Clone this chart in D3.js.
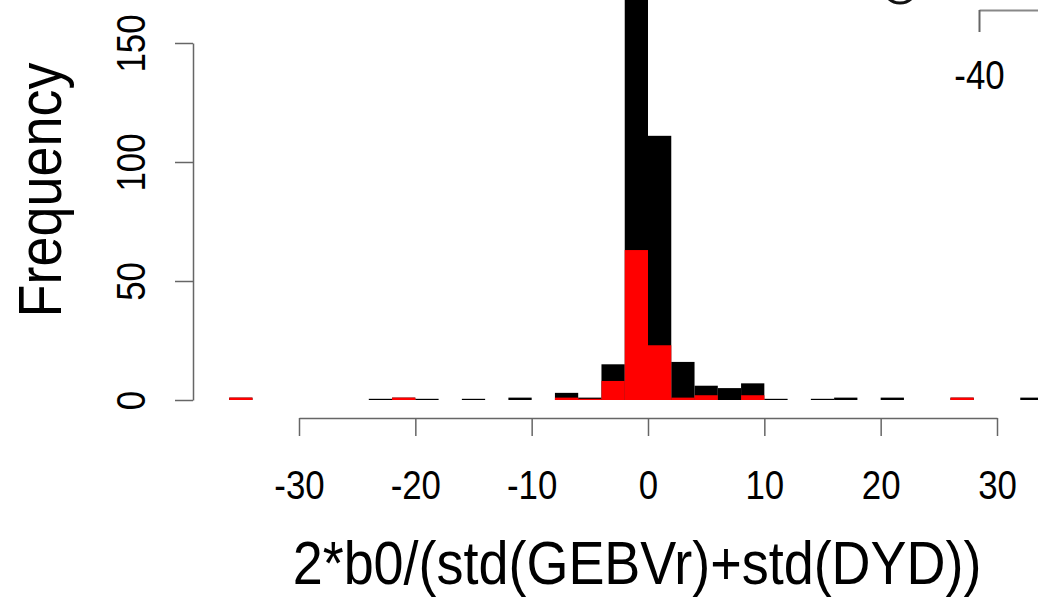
<!DOCTYPE html>
<html>
<head>
<meta charset="utf-8">
<script src="https://cdn.jsdelivr.net/npm/d3@7"></script>
<style>
  body { margin: 0; background: #fff; }
  text { font-family: 'Liberation Sans', Arial, sans-serif; fill: #000; }
</style>
</head>
<body>
<div class="chart"></div>
<script>
// bin left edges (bin width 2)
const binStarts = [-36, -34, -32, -30, -28, -26, -24, -22, -20, -18, -16, -14, -12, -10, -8, -6, -4, -2,
  0, 2, 4, 6, 8, 10, 12, 14, 16, 18, 20, 22, 24, 26, 28, 30, 32];
// all records (black) and subset (red), counts
const blackCounts = [1, 0, 0, 0, 0, 0, 0.5, 1, 0.5, 0, 0.5, 0, 1, 0, 3, 1, 15, 200,
  111, 16, 6, 5, 7, 0.5, 0, 0.5, 1, 0, 1, 0, 0, 1, 0, 0, 1];
const redCounts = [1, 0, 0, 0, 0, 0, 0, 1, 0, 0, 0, 0, 0, 0, 1, 0.5, 8, 63,
  23, 1, 2, 0, 2, 0, 0, 0, 0, 0, 0, 0, 0, 1, 0, 0, 0];
const binWidth = 2;

const xTicks = [-30, -20, -10, 0, 10, 20, 30];
const yTicks = [0, 50, 100, 150];
const xLabel = '2*b0/(std(GEBVr)+std(DYD))';
const yLabel = 'Frequency';
// axis of the neighbouring panel that pokes into the crop
const otherTicks = [-40];

const width = 1038;
const height = 605;
const narrow = 'scale(0.87, 1)'; // the original font is a bit condensed
const tickFont = 40;
const labelFont = 62;

const xScale = d3.scaleLinear().domain([-30, 30]).range([299, 997]);
const yScale = d3.scaleLinear().domain([0, 150]).range([400, 43]);

const svg = d3.select('.chart')
  .append('svg')
  .attr('width', width)
  .attr('height', height);

const bins = binStarts.map((x0, i) => ({ x0: x0, x1: x0 + binWidth, black: blackCounts[i], red: redCounts[i] }));

// black histogram
svg.append('g')
  .selectAll('rect')
  .data(bins.filter(d => d.black > 0))
  .join('rect')
  .attr('x', d => xScale(d.x0))
  .attr('width', d => xScale(d.x1) - xScale(d.x0))
  .attr('y', d => yScale(d.black))
  .attr('height', d => yScale(0) - yScale(d.black))
  .attr('fill', '#000');

// red histogram on top
svg.append('g')
  .selectAll('rect')
  .data(bins.filter(d => d.red > 0))
  .join('rect')
  .attr('x', d => xScale(d.x0))
  .attr('width', d => xScale(d.x1) - xScale(d.x0))
  .attr('y', d => yScale(d.red))
  .attr('height', d => yScale(0) - yScale(d.red))
  .attr('fill', '#ff0000');

// X axis
const xAxis = d3.axisBottom(xScale)
  .tickValues(xTicks)
  .tickFormat(d => String(d))
  .tickSize(18)
  .tickSizeOuter(0);

const gx = svg.append('g')
  .attr('transform', 'translate(0, 418)')
  .call(xAxis);
gx.select('.domain').attr('stroke', '#666').attr('stroke-width', 1.5);
gx.selectAll('.tick line').attr('stroke', '#666').attr('stroke-width', 1.5);
gx.selectAll('.tick text')
  .attr('font-size', tickFont)
  .attr('dy', 0)
  .attr('y', 81)
  .attr('transform', narrow)
  .style('font-family', "'Liberation Sans', Arial, sans-serif");

// Y axis
const yAxis = d3.axisLeft(yScale)
  .tickValues(yTicks)
  .tickSize(18)
  .tickSizeOuter(0);

const gy = svg.append('g')
  .attr('transform', 'translate(193, 0)')
  .call(yAxis);
gy.select('.domain').attr('stroke', '#666').attr('stroke-width', 1.5);
gy.selectAll('.tick line').attr('stroke', '#666').attr('stroke-width', 1.5);
gy.selectAll('.tick text')
  .attr('font-size', tickFont)
  .attr('x', null)
  .attr('dy', 0)
  .attr('text-anchor', 'middle')
  .attr('transform', 'translate(-48, 0) rotate(-90) ' + narrow)
  .style('font-family', "'Liberation Sans', Arial, sans-serif");

// axis titles
svg.append('text')
  .attr('transform', 'translate(637, 584) ' + narrow)
  .attr('text-anchor', 'middle')
  .attr('font-size', labelFont)
  .text(xLabel);

svg.append('text')
  .attr('transform', 'translate(61, 190) rotate(-90) ' + narrow)
  .attr('text-anchor', 'middle')
  .attr('font-size', labelFont)
  .text(yLabel);

// cropped neighbour panel: its axis corner, tick label and a ring
const otherScale = d3.scaleLinear().domain([-40, -35]).range([979, 1060]);
const otherAxis = d3.axisBottom(otherScale)
  .tickValues(otherTicks)
  .tickFormat(d => String(d))
  .tickSize(22)
  .tickSizeOuter(0);
const go = svg.append('g')
  .attr('transform', 'translate(0, 10)')
  .call(otherAxis);
go.select('.domain').attr('stroke', '#888').attr('stroke-width', 2);
go.selectAll('.tick line').attr('stroke', '#666').attr('stroke-width', 2);
go.selectAll('.tick text')
  .attr('font-size', tickFont)
  .attr('dy', 0)
  .attr('y', 79)
  .attr('transform', narrow)
  .style('font-family', "'Liberation Sans', Arial, sans-serif");

svg.append('ellipse')
  .attr('cx', 900)
  .attr('cy', -14)
  .attr('rx', 17)
  .attr('ry', 17)
  .attr('fill', 'none')
  .attr('stroke', '#111')
  .attr('stroke-width', 3);
</script>
</body>
</html>
